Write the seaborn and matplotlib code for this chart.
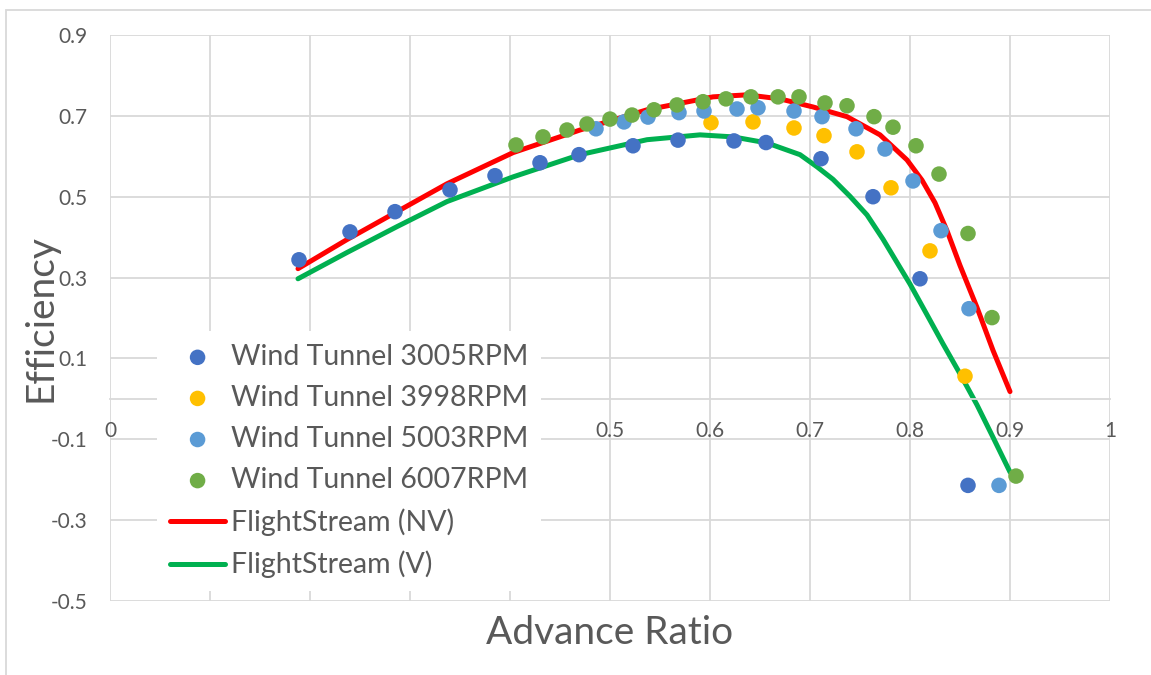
import matplotlib
matplotlib.use("Agg")
import matplotlib.pyplot as plt
import matplotlib.patches as mpatches
from matplotlib.ticker import FuncFormatter
import seaborn as sns

# wind tunnel measurements (advance ratio, efficiency)
j_3005 = [0.189, 0.240, 0.285, 0.340, 0.385, 0.430, 0.469, 0.523, 0.568, 0.624, 0.656, 0.711, 0.763, 0.810, 0.858]
eta_3005 = [0.344, 0.413, 0.463, 0.517, 0.552, 0.584, 0.604, 0.626, 0.640, 0.638, 0.634, 0.594, 0.500, 0.297, -0.214]

j_3998 = [0.601, 0.643, 0.684, 0.714, 0.747, 0.781, 0.820, 0.855]
eta_3998 = [0.683, 0.685, 0.670, 0.651, 0.611, 0.522, 0.366, 0.056]

j_5003 = [0.486, 0.514, 0.538, 0.569, 0.594, 0.627, 0.648, 0.684, 0.712, 0.746, 0.775, 0.803, 0.831, 0.859, 0.889]
eta_5003 = [0.668, 0.685, 0.697, 0.708, 0.712, 0.717, 0.720, 0.712, 0.698, 0.668, 0.618, 0.539, 0.416, 0.223, -0.214]

j_6007 = [0.406, 0.433, 0.457, 0.477, 0.500, 0.522, 0.544, 0.567, 0.593, 0.616, 0.641, 0.668, 0.689,
          0.715, 0.737, 0.764, 0.783, 0.806, 0.829, 0.858, 0.882, 0.906]
eta_6007 = [0.628, 0.648, 0.665, 0.680, 0.692, 0.702, 0.715, 0.727, 0.735, 0.742, 0.747, 0.747, 0.747,
            0.732, 0.725, 0.698, 0.672, 0.626, 0.556, 0.409, 0.201, -0.191]

# FlightStream predictions
j_nv = [0.188, 0.237, 0.287, 0.337, 0.403, 0.470, 0.537, 0.603, 0.637, 0.670, 0.703, 0.737, 0.770,
        0.797, 0.812, 0.825, 0.837, 0.850, 0.867, 0.883, 0.900]
eta_nv = [0.322, 0.394, 0.463, 0.532, 0.609, 0.665, 0.715, 0.747, 0.752, 0.742, 0.722, 0.698, 0.653,
          0.591, 0.541, 0.485, 0.416, 0.330, 0.226, 0.120, 0.018]

j_v = [0.188, 0.237, 0.287, 0.337, 0.403, 0.470, 0.537, 0.590, 0.623, 0.657, 0.690, 0.707, 0.723,
       0.740, 0.757, 0.773, 0.790, 0.800, 0.817, 0.833, 0.850, 0.867, 0.883, 0.900]
eta_v = [0.297, 0.362, 0.426, 0.488, 0.549, 0.604, 0.641, 0.653, 0.648, 0.633, 0.604, 0.574, 0.543,
         0.501, 0.455, 0.395, 0.325, 0.284, 0.208, 0.136, 0.062, -0.015, -0.095, -0.181]

x_ticks = [0, 0.1, 0.2, 0.3, 0.4, 0.5, 0.6, 0.7, 0.8, 0.9, 1]
x_labels = ['0', '', '', '', '', '0.5', '0.6', '0.7', '0.8', '0.9', '1']
y_ticks = [-0.5, -0.3, -0.1, 0.1, 0.3, 0.5, 0.7, 0.9]

sns.set_style("white")
plt.rcParams['font.family'] = ['Lato', 'DejaVu Sans']
plt.rcParams['axes.unicode_minus'] = False

grey = '#d9d9d9'
text_grey = '#595959'

fig = plt.figure(figsize=(11.51, 6.75), dpi=100)
ax = fig.add_axes([110 / 1151, 74 / 675, 1000 / 1151, 566 / 675])

# outer chart frame
fig.patches.append(mpatches.Rectangle((6 / 1151, -0.1), 1.2, 1.085, transform=fig.transFigure,
                                      fill=False, edgecolor=grey, linewidth=1.3))

sns.lineplot(x=j_nv, y=eta_nv, sort=False, estimator=None, color='#FF0000', linewidth=3.6,
             label='FlightStream (NV)', ax=ax, zorder=2)
sns.lineplot(x=j_v, y=eta_v, sort=False, estimator=None, color='#00B050', linewidth=3.6,
             label='FlightStream (V)', ax=ax, zorder=2)

series = [(j_3005, eta_3005, '#4472C4', 'Wind Tunnel 3005RPM'),
          (j_3998, eta_3998, '#FFC000', 'Wind Tunnel 3998RPM'),
          (j_5003, eta_5003, '#5B9BD5', 'Wind Tunnel 5003RPM'),
          (j_6007, eta_6007, '#70AD47', 'Wind Tunnel 6007RPM')]
for x, y, c, lab in series:
    sns.scatterplot(x=x, y=y, color=c, s=125, edgecolor='none', label=lab, ax=ax, zorder=3)

ax.set_xlim(0, 1)
ax.set_ylim(-0.5, 0.9)
ax.set_xticks(x_ticks)
ax.set_xticklabels(x_labels)
ax.set_yticks(y_ticks)
ax.yaxis.set_major_formatter(FuncFormatter(lambda v, p: '%g' % round(v, 2)))
ax.grid(True, color=grey, linewidth=1.3)
ax.set_axisbelow(True)
for s in ['top', 'right', 'left']:
    ax.spines[s].set_visible(False)
ax.spines['bottom'].set_position(('data', 0))
ax.spines['bottom'].set_color(grey)
ax.spines['bottom'].set_linewidth(1.3)
ax.tick_params(axis='both', length=0, labelsize=15, labelcolor=text_grey)
ax.tick_params(axis='x', pad=16)
ax.tick_params(axis='y', pad=16)

fig.text(610 / 1151, 1 - 633 / 675, 'Advance Ratio', ha='center', va='center', fontsize=28, color=text_grey)
fig.text(40 / 1151, 1 - 318 / 675, 'Efficiency', ha='center', va='center', rotation=90,
         fontsize=28, color=text_grey)

handles, labels = ax.get_legend_handles_labels()
order = [l for _, _, _, l in series] + ['FlightStream (NV)', 'FlightStream (V)']
hmap = dict(zip(labels, handles))
leg = ax.legend([hmap[l] for l in order], order, loc='upper left',
                bbox_to_anchor=(157 / 1151, 1 - 331 / 675), bbox_transform=fig.transFigure,
                borderaxespad=0, fontsize=20.5, frameon=True, facecolor='white', edgecolor='none',
                framealpha=1, fancybox=False, handlelength=1.95, handletextpad=0.2,
                labelspacing=0.53, borderpad=0.45)
for t in leg.get_texts():
    t.set_color(text_grey)

fig.savefig('out.png', dpi=100)
